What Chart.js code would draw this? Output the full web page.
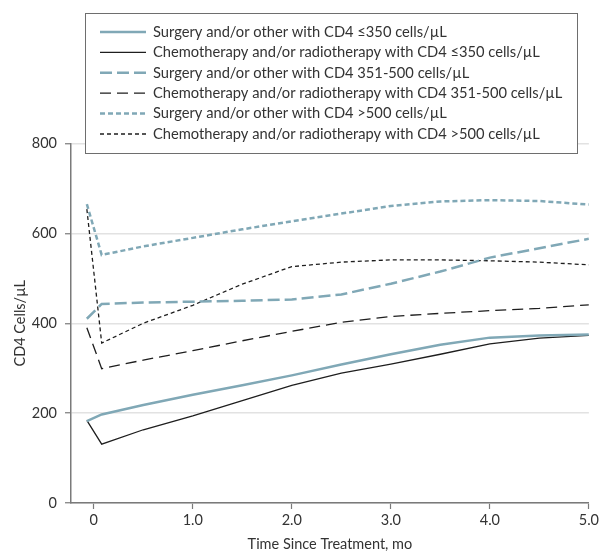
<!DOCTYPE html>
<html>
<head>
<meta charset="utf-8">
<script src="https://cdn.jsdelivr.net/npm/chart.js@4"></script>
<style>
  html, body { margin: 0; padding: 0; background: #fff; }
  #wrap { width: 602px; height: 553px; position: relative; }
</style>
</head>
<body>
<div id="wrap"><canvas id="chartCd4"></canvas></div>
<script>
// time since treatment (months) for each reading
const months = [-0.07, 0.08, 0.5, 1.0, 1.5, 2.0, 2.5, 3.0, 3.5, 4.0, 4.5, 5.0];

// CD4 cells/uL, one list per group
const surgeryLow   = [182, 197, 218, 241, 262, 284, 308, 331, 352, 368, 373, 375];
const chemoLow     = [184, 131, 163, 194, 228, 262, 289, 309, 331, 354, 367, 373];
const surgeryMid   = [410, 443, 446, 448, 450, 453, 464, 488, 515, 546, 567, 588];
const chemoMid     = [390, 299, 318, 339, 361, 382, 402, 415, 422, 428, 433, 441];
const surgeryHigh  = [665, 552, 571, 590, 609, 627, 644, 661, 671, 674, 672, 664];
const chemoHigh    = [654, 356, 400, 440, 487, 526, 536, 541, 541, 539, 536, 530];

const groupLabels = [
    "Surgery and/or other with CD4 \u2264350 cells/\u00b5L",
    "Chemotherapy and/or radiotherapy with CD4 \u2264350 cells/\u00b5L",
    "Surgery and/or other with CD4 351-500 cells/\u00b5L",
    "Chemotherapy and/or radiotherapy with CD4 351-500 cells/\u00b5L",
    "Surgery and/or other with CD4 >500 cells/\u00b5L",
    "Chemotherapy and/or radiotherapy with CD4 >500 cells/\u00b5L",
];

const xTicks = [0, 1, 2, 3, 4, 5];
const yTicks = [0, 200, 400, 600, 800];

const BLUE = "#80a8b6";
const DARK = "#1e1e1e";
const FONT = "Lato";

function toPoints(values) {
    return values.map((v, i) => ({ x: months[i], y: v }));
}

const styles = [
    { color: BLUE, width: 2.5, dash: [] },
    { color: DARK, width: 1.3, dash: [] },
    { color: BLUE, width: 2.5, dash: [12, 5] },
    { color: DARK, width: 1.3, dash: [11, 6] },
    { color: BLUE, width: 2.5, dash: [5, 3] },
    { color: DARK, width: 1.3, dash: [4, 3] },
];

const allSeries = [surgeryLow, chemoLow, surgeryMid, chemoMid, surgeryHigh, chemoHigh];

const datasets = allSeries.map((vals, i) => ({
    label: groupLabels[i],
    data: toPoints(vals),
    borderColor: styles[i].color,
    borderWidth: styles[i].width,
    borderDash: styles[i].dash,
    pointRadius: 0,
    tension: 0,
    fill: false,
}));

// legend box sits over the top of the plot, so draw it by hand
const boxLegend = {
    id: "boxLegend",
    afterDraw(chart) {
        const ctx = chart.ctx;
        ctx.save();
        ctx.fillStyle = "#fff";
        ctx.fillRect(85.5, 13.5, 492, 140);
        ctx.strokeStyle = "#6e6e6e";
        ctx.lineWidth = 1;
        ctx.strokeRect(85.5, 13.5, 492, 140);
        ctx.font = "14.7px " + FONT;
        ctx.textBaseline = "middle";
        chart.data.datasets.forEach((ds, i) => {
            const y = 32 + i * 20.4;
            ctx.beginPath();
            ctx.setLineDash(ds.borderDash);
            ctx.strokeStyle = ds.borderColor;
            ctx.lineWidth = ds.borderWidth;
            ctx.moveTo(100, y);
            ctx.lineTo(146, y);
            ctx.stroke();
            ctx.setLineDash([]);
            ctx.fillStyle = "#333";
            ctx.fillText(ds.label, 153, y);
        });
        ctx.restore();
    },
};

new Chart(document.getElementById("chartCd4"), {
    type: "line",
    data: { datasets: datasets },
    plugins: [boxLegend],
    options: {
        responsive: true,
        maintainAspectRatio: false,
        animation: false,
        layout: { padding: { top: 143.5, right: 10, left: 0, bottom: 0 } },
        plugins: { legend: { display: false }, tooltip: { enabled: false } },
        scales: {
            x: {
                type: "linear",
                min: -0.23,
                max: 5,
                afterBuildTicks: (scale) => {
                    scale.ticks = xTicks.map((v) => ({ value: v }));
                },
                afterFit: (scale) => { scale.height = 50; },
                border: { color: "#7a7a7a", width: 1.5 },
                grid: { drawOnChartArea: false, tickLength: 6, color: "#7a7a7a", tickWidth: 1.2 },
                ticks: {
                    color: "#333",
                    font: { family: FONT, size: 14.5 },
                    padding: 3,
                    maxRotation: 0,
                    callback: (v) => (v === 0 ? "0" : v.toFixed(1)),
                },
                title: {
                    display: true,
                    text: "Time Since Treatment, mo",
                    color: "#333",
                    font: { family: FONT, size: 14.5 },
                    padding: { top: 1, bottom: 0 },
                },
            },
            y: {
                min: 0,
                max: 800,
                afterBuildTicks: (scale) => {
                    scale.ticks = yTicks.map((v) => ({ value: v }));
                },
                afterFit: (scale) => { scale.width = 71; },
                border: { color: "#7a7a7a", width: 1.5 },
                grid: {
                    color: "#e2e2e2",
                    lineWidth: 1.5,
                    tickLength: 6,
                    tickColor: "#7a7a7a",
                    tickWidth: 1.2,
                },
                ticks: {
                    color: "#333",
                    font: { family: FONT, size: 14.5 },
                    padding: 8,
                },
                title: {
                    display: true,
                    text: "CD4 Cells/\u00b5L",
                    color: "#333",
                    font: { family: FONT, size: 14.5 },
                    padding: { top: 12, bottom: 4 },
                },
            },
        },
    },
});
</script>
</body>
</html>
